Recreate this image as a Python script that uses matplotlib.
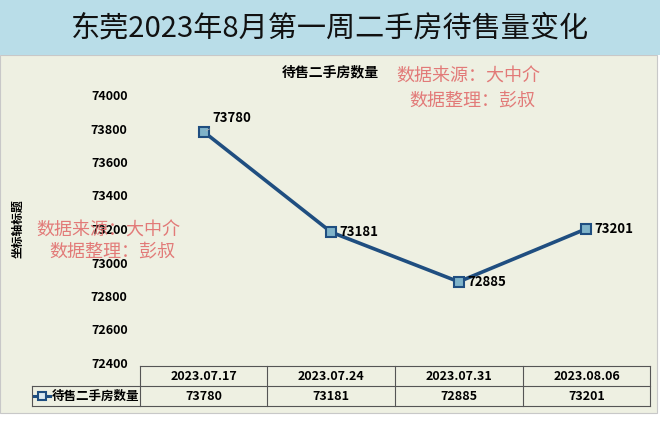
import matplotlib.pyplot as plt
from matplotlib.lines import Line2D
from matplotlib.patches import Rectangle

plt.rcParams['font.family'] = ['Noto Sans CJK SC', 'DejaVu Sans']

# data
dates = ['2023.07.17', '2023.07.24', '2023.07.31', '2023.08.06']
listings = [73780, 73181, 72885, 73201]
yticks = [72400, 72600, 72800, 73000, 73200, 73400, 73600, 73800, 74000]
series_name = '待售二手房数量'
title = '东莞2023年8月第一周二手房待售量变化'

W, H = 660, 421


def fx(px):
    return px / W


def fy(py):
    return 1 - py / H


fig = plt.figure(figsize=(6.6, 4.21), dpi=100)
fig.patch.set_facecolor('white')

# backgrounds
fig.add_artist(Rectangle((fx(0), fy(413)), fx(657), fy(55) - fy(413),
                         transform=fig.transFigure, facecolor='#eef0e2',
                         edgecolor='#c8c8c8', lw=0.8, zorder=0))
fig.add_artist(Rectangle((0, fy(55)), 1, 1 - fy(55), transform=fig.transFigure,
                         facecolor='#b9dde8', edgecolor='none', zorder=0))
fig.text(0.5, fy(28), title, ha='center', va='center', fontsize=21,
         fontweight='medium', color='#111111')

ax = fig.add_axes([fx(140), fy(363), fx(650) - fx(140), fy(95) - fy(363)])
ax.set_facecolor('none')
x = list(range(len(dates)))
ax.plot(x, listings, color='#1f4e80', lw=2.6, marker='s', markersize=6.5,
        markerfacecolor='#7fb3c9', markeredgecolor='#1f4e80', markeredgewidth=1.5,
        zorder=3)
ax.set_xlim(-0.5, 3.5)
ax.set_ylim(72400, 74000)
ax.set_yticks(yticks)
ax.set_yticklabels([str(v) for v in yticks], fontsize=9, fontweight='bold')
ax.set_xticks([])
ax.tick_params(axis='y', length=0, pad=9)
for s in ax.spines.values():
    s.set_visible(False)

# data labels
for i, v in enumerate(listings):
    if i == 0:
        ax.annotate(str(v), (i, v), xytext=(6, 10), textcoords='offset points',
                    fontsize=9.5, fontweight='bold', va='center',
                    arrowprops=dict(arrowstyle='-', color='#b0b0b0', lw=0.6))
    else:
        ax.annotate(str(v), (i, v), xytext=(6, 0), textcoords='offset points',
                    fontsize=9.5, fontweight='bold', va='center')

fig.text(0.5, fy(72), series_name, ha='center', va='center', fontsize=10,
         fontweight='bold')
fig.text(fx(18), fy(229), '坐标轴标题', rotation=90, ha='center', va='center',
         fontsize=8.5, fontweight='bold')

# watermarks
wm = dict(color='#e06666', fontsize=13, alpha=0.85, ha='center', va='center')
fig.text(fx(468), fy(77), '数据来源：大中介', **wm)
fig.text(fx(472), fy(101), '数据整理：彭叔', **wm)
fig.text(fx(108), fy(231), '数据来源：大中介', **wm)
fig.text(fx(112), fy(252), '数据整理：彭叔', **wm)

# data table
cols = [140, 267, 395, 523, 650]
lc = '#555555'
for py in [366, 386, 406]:
    x0 = 32 if py != 366 else 140
    fig.add_artist(Line2D([fx(x0), fx(650)], [fy(py), fy(py)], color=lc, lw=0.8))
for px in cols:
    fig.add_artist(Line2D([fx(px), fx(px)], [fy(366), fy(406)], color=lc, lw=0.8))
fig.add_artist(Line2D([fx(32), fx(32)], [fy(386), fy(406)], color=lc, lw=0.8))
for i in range(len(dates)):
    cx = (cols[i] + cols[i + 1]) / 2
    fig.text(fx(cx), fy(376), dates[i], ha='center', va='center', fontsize=9,
             fontweight='bold')
    fig.text(fx(cx), fy(396), str(listings[i]), ha='center', va='center',
             fontsize=9, fontweight='bold')
# legend key: line with one square marker in the middle
fig.add_artist(Line2D([fx(34), fx(50)], [fy(396), fy(396)], color='#1f4e80', lw=2.2))
fig.add_artist(Line2D([fx(42)], [fy(396)], color='#1f4e80', marker='s', markersize=5.5,
                      markerfacecolor='#dbe9f0', markeredgecolor='#1f4e80',
                      markeredgewidth=1.5, lw=0))
fig.text(fx(52), fy(396), series_name, ha='left', va='center', fontsize=9,
         fontweight='bold')

fig.savefig('out.png', dpi=100)
